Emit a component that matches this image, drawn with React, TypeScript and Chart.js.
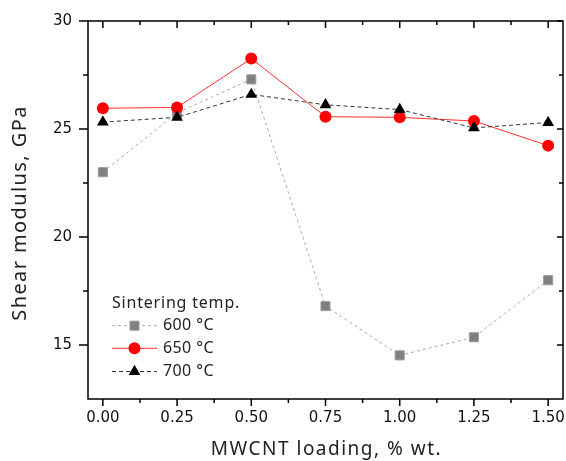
import React, { useEffect, useRef } from "react";
import { Chart, registerables } from "chart.js";
import { drawPoint } from "chart.js/helpers";

Chart.register(...registerables);

const loadings = [0, 0.25, 0.5, 0.75, 1.0, 1.25, 1.5];
const shear600 = [23.0, 25.75, 27.3, 16.8, 14.52, 15.36, 18.0];
const shear650 = [25.96, 26.0, 28.26, 25.57, 25.54, 25.37, 24.23];
const shear700 = [25.32, 25.54, 26.6, 26.12, 25.9, 25.05, 25.3];

const seriesLabels = ["600 °C", "650 °C", "700 °C"];
const legendTitle = "Sintering temp.";
const xTitle = "MWCNT loading, % wt.";
const yTitle = "Shear modulus, GPa";

const xMajorTicks = [0, 0.25, 0.5, 0.75, 1.0, 1.25, 1.5];
const xTickLabels = ["0.00", "0.25", "0.50", "0.75", "1.00", "1.25", "1.50"];
const xMinorTicks = [0.125, 0.375, 0.625, 0.875, 1.125, 1.375];
const yMajorTicks = [15, 20, 25, 30];
const yTickLabels = ["15", "20", "25", "30"];
const yMinorTicks = [17.5, 22.5, 27.5];

const TITLE_FONT = "'Noto Sans', sans-serif";
const TICK_FONT = "'DejaVu Sans', sans-serif";

const decorPlugin = {
  id: "decor",
  afterDraw(chart: any) {
    const { ctx, chartArea: a, scales } = chart;
    const xs = scales.x;
    const ys = scales.y;
    ctx.save();
    ctx.strokeStyle = "#000";
    ctx.lineWidth = 1.5;
    ctx.strokeRect(a.left, a.top, a.right - a.left, a.bottom - a.top);
    ctx.beginPath();
    const yt = (v: number, outL: number, inR: number) => {
      const p = ys.getPixelForValue(v);
      ctx.moveTo(a.left - outL, p);
      ctx.lineTo(a.left, p);
      ctx.moveTo(a.right, p);
      ctx.lineTo(a.right - inR, p);
    };
    yMajorTicks.forEach((v) => yt(v, 9, 6));
    yMinorTicks.forEach((v) => yt(v, 5, 4));
    const xt = (v: number, outB: number, inT: number) => {
      const p = xs.getPixelForValue(v);
      ctx.moveTo(p, a.bottom);
      ctx.lineTo(p, a.bottom + outB);
      ctx.moveTo(p, a.top);
      ctx.lineTo(p, a.top + inT);
    };
    xMajorTicks.forEach((v) => xt(v, 7, 7));
    xMinorTicks.forEach((v) => xt(v, 4, 4));
    ctx.stroke();

    ctx.fillStyle = "#111";
    ctx.textAlign = "center";
    ctx.textBaseline = "middle";
    ctx.font = `15px ${TICK_FONT}`;
    xMajorTicks.forEach((v, i) => {
      ctx.fillText(xTickLabels[i], xs.getPixelForValue(v), a.bottom + 19);
    });

    ctx.fillStyle = "#222";
    ctx.font = `19px ${TITLE_FONT}`;
    (ctx as any).letterSpacing = "1.5px";
    ctx.fillText(xTitle, (a.left + a.right) / 2 + 1, 450);
    ctx.save();
    ctx.font = `20px ${TITLE_FONT}`;
    (ctx as any).letterSpacing = "1.4px";
    ctx.translate(20, 213);
    ctx.rotate(-Math.PI / 2);
    ctx.fillText(yTitle, 0, 0);
    ctx.restore();

    ctx.font = `16px ${TITLE_FONT}`;
    (ctx as any).letterSpacing = "0.8px";
    ctx.textAlign = "left";
    ctx.fillText(legendTitle, 112, 303);
    (ctx as any).letterSpacing = "0.4px";
    const rows = [325.7, 348.3, 371.5];
    chart.data.datasets.forEach((ds: any, i: number) => {
      const y = rows[i];
      ctx.save();
      ctx.strokeStyle = ds.borderColor;
      ctx.lineWidth = ds.borderWidth;
      ctx.setLineDash(ds.borderDash || []);
      ctx.beginPath();
      ctx.moveTo(112, y);
      ctx.lineTo(157, y);
      ctx.stroke();
      ctx.restore();
      ctx.save();
      ctx.fillStyle = ds.pointBackgroundColor;
      ctx.strokeStyle = ds.pointBorderColor;
      ctx.lineWidth = ds.pointBorderWidth;
      drawPoint(ctx, { pointStyle: ds.pointStyle, radius: ds.pointRadius, rotation: 0, borderWidth: ds.pointBorderWidth }, 134.5, y);
      ctx.restore();
      ctx.fillStyle = "#222";
      ctx.fillText(ds.label, 163, y);
    });
    ctx.restore();
  },
};

export default function App() {
  const ref = useRef<HTMLCanvasElement>(null);
  useEffect(() => {
    document.body.style.margin = "0";
    const mk = (vals: number[]) => loadings.map((x, i) => ({ x, y: vals[i] }));
    const chart = new Chart(ref.current!, {
      type: "line",
      data: {
        datasets: [
          {
            label: seriesLabels[0],
            data: mk(shear600),
            borderColor: "#aaaaaa",
            borderWidth: 1,
            borderDash: [3, 3],
            pointStyle: "rect",
            pointRadius: 6.4,
            pointBackgroundColor: "#808080",
            pointBorderColor: "#9a9a9a",
            pointBorderWidth: 1,
            order: 2,
          },
          {
            label: seriesLabels[1],
            data: mk(shear650),
            borderColor: "#ff3030",
            borderWidth: 1,
            pointStyle: "circle",
            pointRadius: 6,
            pointBackgroundColor: "#ff0000",
            pointBorderColor: "#ff0000",
            pointBorderWidth: 0,
            order: 1,
          },
          {
            label: seriesLabels[2],
            data: mk(shear700),
            borderColor: "#333333",
            borderWidth: 1,
            borderDash: [4, 3],
            pointStyle: "triangle",
            pointRadius: 6.8,
            pointBackgroundColor: "#000000",
            pointBorderColor: "#000000",
            pointBorderWidth: 0,
            order: 0,
          },
        ] as any,
      },
      options: {
        animation: false,
        responsive: false,
        devicePixelRatio: 1,
        layout: { autoPadding: false, padding: { top: 21, right: 3, left: 0, bottom: 0 } },
        plugins: { legend: { display: false }, tooltip: { enabled: false } },
        scales: {
          x: {
            type: "linear",
            min: -0.05,
            max: 1.55,
            afterFit: (s: any) => { s.height = 62; },
            afterBuildTicks: (s: any) => { s.ticks = xMajorTicks.map((v) => ({ value: v })); },
            ticks: { display: false },
            grid: { display: false },
            border: { display: false },
          },
          y: {
            type: "linear",
            min: 12.5,
            max: 30,
            afterFit: (s: any) => { s.width = 88; },
            afterBuildTicks: (s: any) => { s.ticks = yMajorTicks.map((v) => ({ value: v })); },
            ticks: {
              callback: (_v: any, i: number) => yTickLabels[i],
              font: { family: TICK_FONT, size: 15 },
              color: "#111",
              padding: 7,
            },
            grid: { drawOnChartArea: false, tickLength: 9, color: "transparent" },
            border: { display: false },
          },
        },
      },
      plugins: [decorPlugin],
    });
    return () => chart.destroy();
  }, []);
  return <canvas ref={ref} width={566} height={461} style={{ display: "block" }} />;
}
